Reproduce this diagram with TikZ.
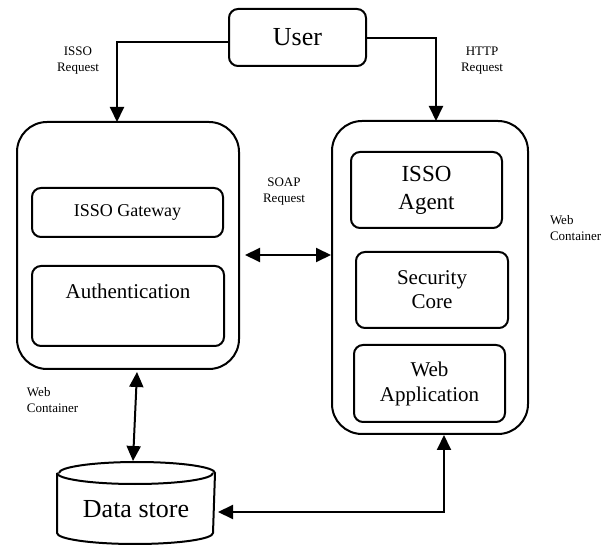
\documentclass[tikz,border=0pt]{standalone}
\usepackage{fontspec}
\setmainfont{Liberation Serif}
\usetikzlibrary{arrows.meta}

\begin{document}
\begin{tikzpicture}[x=1pt,y=-1pt,line width=2pt,
    outer/.style={draw,rounded corners=30pt,inner sep=0pt},
    box/.style={draw,rounded corners=9pt,inner sep=0pt},
    lbl/.style={align=center,font=\fontsize{13}{16}\selectfont,inner sep=0pt},
    link/.style={-{Triangle[length=15pt,width=14pt]}},
    both/.style={{Triangle[length=15pt,width=14pt]}-{Triangle[length=15pt,width=14pt]}}]
    \useasboundingbox (0,0) rectangle (611,545);
    % user and the two containers
    \node[box,minimum width=137pt,minimum height=57pt,font=\fontsize{26}{30}\selectfont] (user) at (297.5,37.5) {User};
    \node[outer,minimum width=222pt,minimum height=247pt] (authc) at (128,245.5) {};
    \node[outer,minimum width=196pt,minimum height=313pt] (webc) at (430,277.5) {};
    % left container
    \node[box,minimum width=191pt,minimum height=49pt,font=\fontsize{18}{22}\selectfont] (gateway) at (127.5,212.5) {ISSO Gateway};
    \node[box,anchor=north,minimum width=192pt,text height=33pt,text depth=47pt,font=\fontsize{21}{25}\selectfont] (authn) at (128,265) {Authentication};
    % right container
    \node[box,align=center,minimum width=151pt,minimum height=76pt,font=\fontsize{23}{28}\selectfont] (agent) at (426.5,190) {ISSO\\Agent};
    \node[box,align=center,minimum width=152pt,minimum height=76pt,font=\fontsize{21}{24}\selectfont] (score) at (432,290) {Security\\Core};
    \node[box,align=center,minimum width=151pt,minimum height=77pt,font=\fontsize{21}{25}\selectfont] (webapp) at (429.5,383.5) {Web\\Application};
    % data store
    \node[minimum width=156pt,minimum height=80pt,inner sep=0pt,text height=30pt,text depth=0pt,font=\fontsize{26}{30}\selectfont] (store) at (136,503) {Data store};
    \draw ([yshift=-11pt]store.north west) -- ([yshift=11pt]store.south west)
        arc[start angle=180,end angle=360,x radius=78pt,y radius=11pt]
        -- ([yshift=-11pt]store.north east)
        arc[start angle=0,end angle=180,x radius=78pt,y radius=11pt];
    \draw ([yshift=-11pt]store.north west) arc[start angle=180,end angle=360,x radius=78pt,y radius=11pt];
    % labels
    \node[lbl] (isso req) at (78,61) {ISSO\\Request};
    \node[lbl] (http req) at (482,61) {HTTP\\Request};
    \node[lbl] (soap req) at (284,192) {SOAP\\Request};
    \node[lbl,align=left,anchor=west] (web r) at (549,228) {Web\\Container};
    \node[lbl,align=left,anchor=west] (web l) at (26,400) {Web\\Container};
    % connectors
    \coordinate (isso in) at (117,122);
    \coordinate (http in) at (436,121);
    \coordinate (soap l) at (245,255);
    \coordinate (ds top) at (137,372);
    \coordinate (ds bot) at (133,461);
    \draw[link] ([yshift=-4.5pt]user.west) -| (isso in);
    \draw[link] ([yshift=-0.5pt]user.east) -| (http in);
    \draw[both] (soap l) -- (webc.west |- soap l);
    \draw[both] (ds top) -- (ds bot);
    \draw[both] ([xshift=3pt,yshift=-9pt]store.east) -| ([xshift=14pt]webc.south);
\end{tikzpicture}
\end{document}
